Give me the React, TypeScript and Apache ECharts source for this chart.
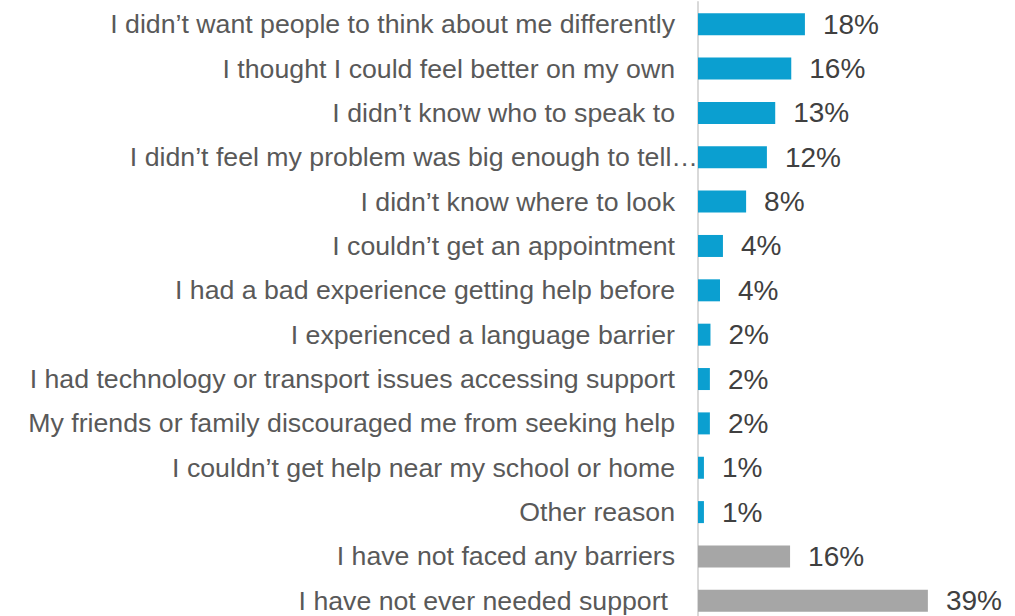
import React, { useEffect, useRef } from "react";
import * as echarts from "echarts";

const categories = [
  "I didn’t want people to think about me differently",
  "I thought I could feel better on my own",
  "I didn’t know who to speak to",
  "I didn’t feel my problem was big enough to tell…",
  "I didn’t know where to look",
  "I couldn’t get an appointment",
  "I had a bad experience getting help before",
  "I experienced a language barrier",
  "I had technology or transport issues accessing support",
  "My friends or family discouraged me from seeking help",
  "I couldn’t get help near my school or home",
  "Other reason",
  "I have not faced any barriers",
  "I have not ever needed support",
];
const values = [18, 15.7, 13, 11.6, 8.1, 4.2, 3.7, 2.1, 2.0, 2.0, 1.0, 1.0, 15.5, 38.7];
const barColors = [
  "#0b9fd0", "#0b9fd0", "#0b9fd0", "#0b9fd0", "#0b9fd0", "#0b9fd0",
  "#0b9fd0", "#0b9fd0", "#0b9fd0", "#0b9fd0", "#0b9fd0", "#0b9fd0",
  "#a6a6a6", "#a6a6a6",
];

export default function App() {
  const ref = useRef<HTMLDivElement>(null);
  useEffect(() => {
    document.body.style.margin = "0";
    document.body.style.overflow = "hidden";
    const chart = echarts.init(ref.current!, null, { renderer: "svg" });
    chart.setOption({
      animation: false,
      backgroundColor: "#ffffff",
      grid: { left: 698, right: 20, top: 2, height: 621, containLabel: false },
      xAxis: {
        type: "value",
        min: 0,
        max: 50,
        show: false,
      },
      yAxis: {
        type: "category",
        inverse: true,
        data: categories,
        axisLine: { show: true, lineStyle: { color: "#d9d9d9", width: 2 } },
        axisTick: { show: false },
        axisLabel: {
          color: "#595959",
          fontSize: 26.7,
          fontFamily: "Liberation Sans, Arial, sans-serif",
          margin: 23,
          formatter: (v: string, i: number) => {
            if (i === 3) return "{shift|" + v + "}";
            if (i === 13) return "{last|" + v + "}";
            return v;
          },
          rich: {
            shift: {
              color: "#595959",
              fontSize: 26.7,
              fontFamily: "Liberation Sans, Arial, sans-serif",
              padding: [0, -23, 0, 0],
            },
            last: {
              color: "#595959",
              fontSize: 26.7,
              fontFamily: "Liberation Sans, Arial, sans-serif",
              padding: [0, 7, 0, 0],
            },
          },
        },
      },
      series: [
        {
          type: "bar",
          barWidth: 22,
          data: values.map((v, i) => ({ value: v, itemStyle: { color: barColors[i] } })),
          label: {
            show: true,
            position: "right",
            distance: 18,
            color: "#404040",
            fontSize: 28,
            fontFamily: "Liberation Sans, Arial, sans-serif",
            formatter: (p: any) => Math.round(p.value) + "%",
          },
        },
      ],
    });
    return () => chart.dispose();
  }, []);
  return <div ref={ref} style={{ width: 1015, height: 630 }} />;
}
